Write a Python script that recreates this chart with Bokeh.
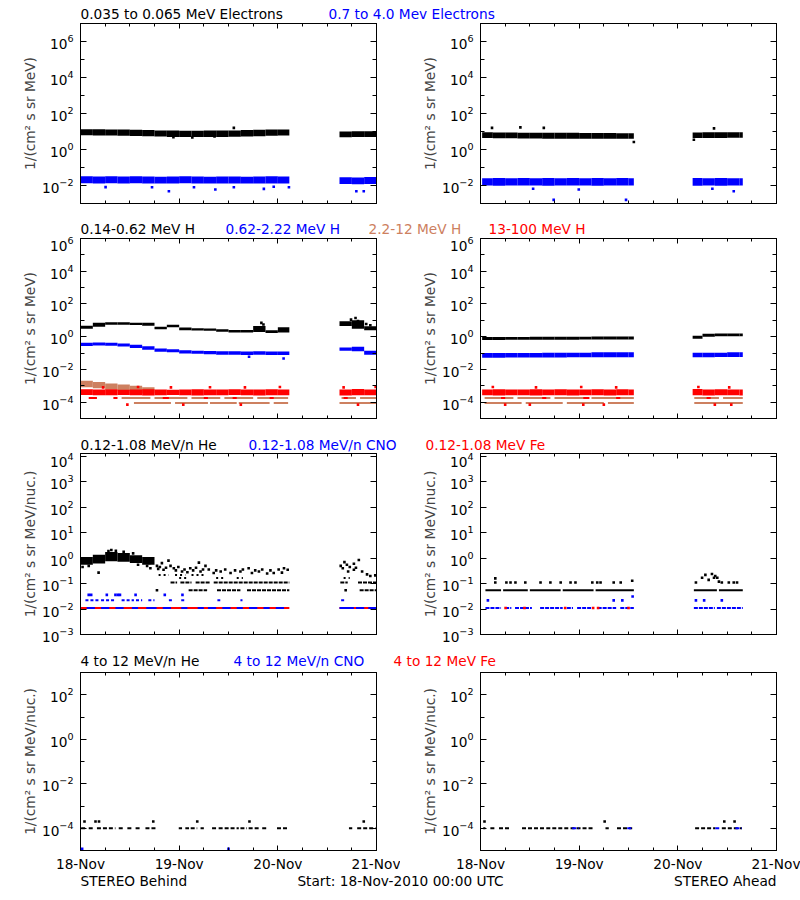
from bokeh.plotting import figure
from bokeh.models import Range1d, FixedTicker, LogAxis, LinearAxis, Label, CustomJSTickFormatter
from bokeh.layouts import column, row
from bokeh.embed import file_html
from bokeh.resources import INLINE

FONT = "DejaVu Sans"
FS = "13.7px"
BLACK = "#000000"
BLUE = "#0000FF"
RED = "#FF0000"
BROWN = "#CD8060"

# ---------------- axes ----------------
DAY_TICKS = [0, 24, 48, 72]
DAY_LABELS = ["18-Nov", "19-Nov", "20-Nov", "21-Nov"]
HOUR_MINOR = [6, 12, 18, 30, 36, 42, 54, 60, 66]

E_RANGE = (1e-3, 1e7)
E_MAJOR = [1e-2, 1e0, 1e2, 1e4, 1e6]
E_MINOR = [1e-3, 1e-1, 1e1, 1e3, 1e5, 1e7]
H_RANGE = (1e-5, 1e6)
H_MAJOR = [1e-4, 1e-2, 1e0, 1e2, 1e4, 1e6]
H_MINOR = [1e-5, 1e-3, 1e-1, 1e1, 1e3, 1e5]
HE_RANGE = (1e-3, 1.3e4)
HE_MAJOR = [1e-3, 1e-2, 1e-1, 1e0, 1e1, 1e2, 1e3, 1e4]
HE_MINOR = [1e-3, 1e4]
HEH_RANGE = (1e-5, 1e3)
HEH_MAJOR = [1e-4, 1e-2, 1e0, 1e2]
HEH_MINOR = [1e-5, 1e-3, 1e-1, 1e1, 1e3]

YLABEL_MEV = "1/(cm\u00b2 s sr MeV)"
YLABEL_NUC = "1/(cm\u00b2 s sr MeV/nuc.)"

ROW_TITLES = [
    [("0.035 to 0.065 MeV Electrons", BLACK), ("0.7 to 4.0 Mev Electrons", BLUE)],
    [("0.14-0.62 MeV H", BLACK), ("0.62-2.22 MeV H", BLUE), ("2.2-12 MeV H", BROWN), ("13-100 MeV H", RED)],
    [("0.12-1.08 MeV/n He", BLACK), ("0.12-1.08 MeV/n CNO", BLUE), ("0.12-1.08 MeV Fe", RED)],
    [("4 to 12 MeV/n He", BLACK), ("4 to 12 MeV/n CNO", BLUE), ("4 to 12 MeV Fe", RED)],
]
FOOTER = ["STEREO Behind", "Start: 18-Nov-2010 00:00 UTC", "STEREO Ahead"]

# ---------------- time bins (hours after 18-Nov-2010 00:00) ----------------
B_T0 = [0, 3, 6, 9, 12, 15, 18, 21, 24, 27, 30, 33, 36, 39, 42, 45, 48, 63, 66, 69]
B_T1 = [3, 6, 9, 12, 15, 18, 21, 24, 27, 30, 33, 36, 39, 42, 45, 48, 50.8, 66, 69, 72]
A_T0 = [0.4, 3, 6, 9, 12, 15, 18, 21, 24, 27, 30, 33, 36, 51.6, 54, 57, 60, 63]
A_T1 = [3, 6, 9, 12, 15, 18, 21, 24, 27, 30, 33, 36, 37.3, 54, 57, 60, 63, 63.8]

# ---------------- electrons, Behind ----------------
EB_BLK_LO = [6.2, 6.0, 5.9, 5.8, 5.7, 5.5, 5.2, 5.0, 4.9, 4.9, 5.0, 5.0, 5.1, 5.3, 5.5, 5.8, 6.0, 4.8, 4.9, 5.0]
EB_BLK_HI = [13.5, 13.2, 13.0, 12.8, 12.5, 12.0, 11.5, 11.2, 11.0, 11.0, 11.2, 11.3, 11.5, 12.0, 12.4, 12.8, 13.0, 10.0, 10.2, 10.4]
EB_BLK_OUT_T = [22.6, 27.2, 32.6, 37.3]
EB_BLK_OUT_V = [4.9, 4.6, 5.3, 15.8]
EB_BLU_LO = [0.0135, 0.0130, 0.0134, 0.0131, 0.0132, 0.0130, 0.0128, 0.0130, 0.0132, 0.0129, 0.0128, 0.0130, 0.0131, 0.0130, 0.0128, 0.0131, 0.0130, 0.0120, 0.0118, 0.0121]
EB_BLU_HI = [0.033, 0.032, 0.033, 0.032, 0.033, 0.032, 0.031, 0.032, 0.033, 0.032, 0.031, 0.032, 0.032, 0.031, 0.032, 0.033, 0.032, 0.029, 0.028, 0.030]
EB_BLU_OUT_T = [6.1, 17.4, 21.5, 27.6, 32.8, 37.3, 44.6, 47.0, 50.7, 67.1, 68.9]
EB_BLU_OUT_V = [0.0081, 0.008, 0.0048, 0.008, 0.006, 0.008, 0.0065, 0.0085, 0.008, 0.0048, 0.0048]

# ---------------- electrons, Ahead ----------------
EA_BLK_LO = [4.3, 4.2, 4.2, 4.1, 4.1, 4.0, 4.0, 4.0, 4.0, 3.9, 3.9, 3.9, 3.9, 4.3, 4.4, 4.4, 4.5, 4.5]
EA_BLK_HI = [9.0, 8.8, 8.8, 8.6, 8.6, 8.4, 8.4, 8.4, 8.3, 8.2, 8.2, 8.0, 8.0, 8.8, 9.0, 9.2, 9.2, 9.0]
EA_BLK_OUT_T = [2.8, 9.7, 15.4, 37.3, 56.8, 51.9]
EA_BLK_OUT_V = [15.8, 16.9, 15.8, 2.6, 15.0, 3.5]
EA_BLU_LO = [0.0100, 0.0098, 0.0101, 0.0099, 0.0100, 0.0097, 0.0100, 0.0099, 0.0101, 0.0098, 0.0100, 0.0099, 0.0100, 0.0098, 0.0100, 0.0097, 0.0100, 0.0100]
EA_BLU_HI = [0.025, 0.026, 0.025, 0.026, 0.025, 0.026, 0.025, 0.026, 0.025, 0.026, 0.025, 0.026, 0.025, 0.026, 0.025, 0.026, 0.025, 0.025]
EA_BLU_OUT_T = [12.8, 17.8, 23.9, 35.4, 61.6, 56.4]
EA_BLU_OUT_V = [0.0066, 0.0016, 0.006, 0.0016, 0.0048, 0.0066]

# ---------------- protons, Behind ----------------
HB_BLK_LO = [3.0, 4.0, 5.4, 5.4, 5.2, 4.6, 2.8, 3.8, 2.5, 2.4, 2.3, 2.0, 1.8, 1.8, 1.9, 1.7, 1.8, 4.5, 3.0, 2.5]
HB_BLK_HI = [4.6, 7.0, 7.5, 7.5, 7.2, 7.0, 4.0, 5.4, 3.6, 3.3, 3.2, 2.8, 2.6, 2.6, 4.5, 2.5, 3.8, 8.8, 10.0, 4.3]
HB_BLK_OUT_T = [44.0, 44.5, 65.8, 66.9, 67.5, 69.5, 70.5]
HB_BLK_OUT_V = [7.0, 5.5, 11.0, 14.0, 9.0, 6.0, 5.0]
HB_BLU_LO = [0.27, 0.29, 0.28, 0.25, 0.20, 0.16, 0.12, 0.11, 0.095, 0.09, 0.085, 0.08, 0.08, 0.075, 0.08, 0.075, 0.075, 0.14, 0.13, 0.08]
HB_BLU_HI = [0.42, 0.44, 0.42, 0.38, 0.32, 0.26, 0.19, 0.17, 0.15, 0.14, 0.135, 0.13, 0.13, 0.125, 0.13, 0.125, 0.125, 0.22, 0.24, 0.14]
HB_BLU_OUT_T = [49.4, 41.0]
HB_BLU_OUT_V = [0.046, 0.06]
HB_BRN_T0 = [0, 3, 6, 9, 12, 15]
HB_BRN_T1 = [3, 6, 9, 12, 15, 18]
HB_BRN_LO = [8e-4, 7e-4, 6e-4, 5e-4, 4e-4, 3.5e-4]
HB_BRN_HI = [2.0e-3, 1.7e-3, 1.4e-3, 1.2e-3, 1.0e-3, 8e-4]
HB_BRN_L2_T0 = [10, 18, 27, 35, 43, 63.5, 68]
HB_BRN_L2_T1 = [17, 26, 34, 42, 50.5, 67, 72]
HB_BRN_L1_T0 = [13, 23, 31.5, 38.5, 47, 63]
HB_BRN_L1_T1 = [22, 31, 38, 46, 50.5, 72]
HB_RED_LO = [2.7e-4, 2.6e-4, 2.6e-4, 2.7e-4, 2.6e-4, 2.5e-4, 2.6e-4, 2.7e-4, 2.6e-4, 2.5e-4, 2.6e-4, 2.6e-4, 2.7e-4, 2.6e-4, 2.5e-4, 2.6e-4, 2.6e-4, 2.5e-4, 2.6e-4, 2.6e-4]
HB_RED_HI = [6.2e-4, 6.0e-4, 6.2e-4, 5.8e-4, 6.0e-4, 6.2e-4, 6.0e-4, 5.8e-4, 6.0e-4, 6.2e-4, 5.9e-4, 6.0e-4, 6.1e-4, 5.9e-4, 6.0e-4, 6.2e-4, 6.0e-4, 6.0e-4, 6.3e-4, 6.0e-4]
HB_RED_OUT_T = [5.5, 14, 22, 31.5, 40, 48.5, 64, 71.8, 11.4, 25, 39, 67.5]
HB_RED_OUT_V = [8e-4, 8.5e-4, 8e-4, 8.2e-4, 8e-4, 8.5e-4, 8e-4, 8.4e-4, 7e-5, 7e-5, 7e-5, 7e-5]
HB_RED_L2_T0 = [2, 8, 20, 30, 37, 46, 64]
HB_RED_L2_T1 = [4, 9, 21.5, 31, 38, 47, 65]

# ---------------- protons, Ahead ----------------
HA_BLK_LO = [0.62, 0.63, 0.64, 0.64, 0.65, 0.65, 0.66, 0.66, 0.67, 0.67, 0.68, 0.68, 0.68, 0.75, 1.0, 1.05, 1.05, 1.05]
HA_BLK_HI = [0.95, 0.96, 0.97, 0.97, 0.98, 0.98, 1.0, 1.0, 1.0, 1.02, 1.02, 1.03, 1.03, 1.15, 1.5, 1.55, 1.55, 1.55]
HA_BLU_LO = [0.052, 0.052, 0.053, 0.053, 0.054, 0.054, 0.054, 0.055, 0.055, 0.055, 0.056, 0.056, 0.056, 0.056, 0.056, 0.057, 0.057, 0.057]
HA_BLU_HI = [0.10, 0.10, 0.10, 0.10, 0.10, 0.105, 0.105, 0.105, 0.105, 0.11, 0.11, 0.11, 0.11, 0.105, 0.105, 0.105, 0.11, 0.11]
HA_RED_LO = [2.6e-4, 2.5e-4, 2.6e-4, 2.6e-4, 2.5e-4, 2.6e-4, 2.6e-4, 2.5e-4, 2.6e-4, 2.6e-4, 2.5e-4, 2.6e-4, 2.6e-4, 2.6e-4, 2.5e-4, 2.6e-4, 2.6e-4, 2.5e-4]
HA_RED_HI = [6.0e-4, 6.2e-4, 6.0e-4, 5.9e-4, 6.1e-4, 6.0e-4, 6.2e-4, 6.0e-4, 5.9e-4, 6.1e-4, 6.0e-4, 6.2e-4, 6.0e-4, 6.3e-4, 6.0e-4, 6.1e-4, 6.0e-4, 6.0e-4]
HA_RED_OUT_T = [3.0, 13.5, 24.5, 33.0, 53.0, 60.5, 6, 12, 25, 30, 57, 61]
HA_RED_OUT_V = [8.5e-4, 8e-4, 8.5e-4, 8e-4, 8.5e-4, 8e-4, 7e-5, 7e-5, 7e-5, 7e-5, 7e-5, 7e-5]
HA_BRN_L2_T0 = [1, 9, 18, 27, 52, 59]
HA_BRN_L2_T1 = [8, 17, 26, 37.3, 58, 63.8]
HA_BRN_L1_T0 = [1, 11, 21, 31, 52]
HA_BRN_L1_T1 = [10, 20, 30, 37.3, 63.8]
HA_RED_L2_T0 = [5, 15, 25, 33, 55]
HA_RED_L2_T1 = [6, 16, 26.5, 34, 56]

H_LEVEL_1 = 9e-5
H_LEVEL_2 = 1.8e-4

# ---------------- 0.12-1.08 MeV/n, Behind ----------------
HEB_CLOUD_T0 = [0, 3, 6, 9, 12, 15]
HEB_CLOUD_T1 = [3, 6, 9, 12, 15, 18]
HEB_CLOUD_LO = [0.55, 0.62, 0.75, 0.72, 0.65, 0.55]
HEB_CLOUD_HI = [1.1, 1.35, 1.75, 1.6, 1.3, 1.1]
HEB_BLK_T = [0.5, 2.0, 4.4, 7.5, 6.8, 8.6, 10.5, 12.8, 16.2, 17.0, 16.8, 14.0,
             18.6, 19.8, 21.4, 21.9, 22.7, 24.7, 26.7, 28.8, 29.2, 30.4, 31.2, 32.4, 34.1, 36.5,
             38.9, 40.9, 41.7, 43.4, 45.4, 47.0, 49.0, 49.5, 50.4,
             18.9, 19.3, 20.2, 20.8, 23.2, 23.8, 25.3, 26.0, 27.4, 28.1, 29.8, 33.0, 35.2, 37.6,
             39.5, 42.5, 44.2, 46.2, 48.2,
             63.3, 64.2, 65.5, 66.5, 67.7, 66.5, 65.1, 68.5, 69.7, 70.5, 71.7, 63.8, 64.8, 67.0,
             18.6, 64.5, 71.5]
HEB_BLK_V = [0.45, 0.5, 0.27, 2.1, 1.9, 1.95, 1.8, 1.55, 0.5, 0.4, 0.65, 0.55,
             0.5, 0.64, 0.8, 0.5, 0.4, 0.3, 0.4, 0.67, 0.3, 0.5, 0.36, 0.26, 0.3, 0.26,
             0.3, 0.4, 0.26, 0.3, 0.25, 0.26, 0.27, 0.4, 0.35,
             0.38, 0.45, 0.35, 0.42, 0.33, 0.45, 0.36, 0.28, 0.33, 0.42, 0.36, 0.33, 0.36, 0.33,
             0.36, 0.33, 0.36, 0.33, 0.36,
             0.5, 0.7, 0.45, 0.6, 0.85, 0.35, 0.3, 0.3, 0.23, 0.2, 0.21, 0.4, 0.55, 0.42,
             0.055, 0.055, 0.0105]
HEB_L4_T0 = [19, 23, 27]
HEB_L4_T1 = [21.5, 25.5, 30.5]
HEB_L3_T0 = [24, 33, 38, 64]
HEB_L3_T1 = [26, 35, 39.5, 65.5]
HEB_L2_T0 = [21.9, 24.3, 28, 32.4, 63.2, 67.5]
HEB_L2_T1 = [23.5, 27, 31.6, 50.8, 65, 72]
HEB_L1_T0 = [26.3, 33.2, 40.5, 67.9]
HEB_L1_T1 = [30.8, 38.9, 50.8, 72]
HEB_RED_T0 = [0, 63]
HEB_RED_T1 = [50.8, 72]
HEB_BLU_T0 = [1.5, 5.0, 8.5, 12.5, 16.0, 20.0, 24.5, 28.5, 31.0, 34.5, 38.0, 41.0, 44.5, 47.5, 63.0, 67.0, 70.0]
HEB_BLU_T1 = [3.5, 7.0, 10.5, 14.0, 18.5, 22.0, 26.0, 30.0, 33.0, 36.5, 39.5, 43.0, 46.0, 49.5, 66.5, 69.0, 72.0]
HEB_BLU2_T0 = [1.2, 5, 10, 13.5, 16.5, 21.5, 24.5, 33.3, 38.9, 63.4]
HEB_BLU2_T1 = [4.5, 8.5, 13, 15, 18, 22.5, 25.5, 34, 39.4, 64.4]
HEB_BLU3_T = [2.0, 2.6, 6.4, 8.5, 9.1, 9.6, 13.4, 20.5, 24.8]

HE_LEVEL_1 = 0.055
HE_LEVEL_2 = 0.11
HE_LEVEL_3 = 0.165
HE_LEVEL_4 = 0.22
HEAVY_LEVEL_1 = 0.011
HEAVY_LEVEL_2 = 0.022
HEAVY_LEVEL_3 = 0.036
HEAVY_LEVEL_3A = 0.031

# ---------------- 0.12-1.08 MeV/n, Ahead ----------------
HEA_L1_T0 = [1.2, 5.5, 12, 20, 28, 51.9, 58]
HEA_L1_T1 = [5, 11.5, 19.5, 27.5, 37.3, 57.5, 63.8]
HEA_BLK_T = [3.6, 6.3, 7.3, 8.5, 10.9, 14.6, 17.0, 19.5, 21.9, 23.1, 27.2, 28.4, 29.2, 32.4, 34.1,
             3.6, 36.9, 54.7, 56.3, 57.1, 53.9, 55.5, 58.0, 58.7, 60.4, 61.6, 62.4, 57.6, 56.8, 52.4]
HEA_BLK_V = [0.11, 0.11, 0.11, 0.11, 0.11, 0.11, 0.11, 0.11, 0.11, 0.11, 0.11, 0.11, 0.11, 0.11, 0.11,
             0.16, 0.13, 0.22, 0.24, 0.2, 0.17, 0.14, 0.12, 0.11, 0.11, 0.11, 0.11, 0.17, 0.17, 0.11]
HEA_BLU_T0 = [1.2, 6.0, 8.4, 14.5, 21.0, 23.5, 28.5, 34.0, 51.9, 57.5]
HEA_BLU_T1 = [5.0, 7.5, 12.5, 20.0, 22.5, 27.5, 33.0, 37.3, 57.0, 63.8]
HEA_RED_T = [6.1, 10.7, 20.6, 27.4, 28.6, 36.0]
HEA_BLU2_T = [1.8, 32.4, 34.5, 52.4, 54.4, 58.7]
HEA_BLU3_T = [37.0]

# ---------------- 4-12 MeV/n ----------------
HHB_L_T0 = [0.16, 2.0, 4.0, 6.9, 9.3, 11.4, 13.4, 15.8, 23.9, 25.5, 26.8, 29.2, 32.0, 33.6, 36.5, 38.9, 40.9, 44.2, 47.8, 65.3, 67.3]
HHB_L_T1 = [1.6, 3.2, 6.5, 8.5, 10.5, 12.6, 14.6, 18.7, 24.7, 26.4, 28.4, 30.0, 33.2, 36.1, 38.5, 40.5, 43.8, 45.4, 50.3, 66.1, 71.8]
HHB_HI_T = [0.97, 3.65, 4.5, 17.7, 28.4, 41.1, 68.9]
HHB_BLU_T = [0.4, 36.0]
HHA_L_T0 = [0.66, 2.4, 4.5, 10.1, 16.0, 21.9, 30.4, 33.2, 52.2, 58.7]
HHA_L_T1 = [1.2, 3.8, 7.3, 15.5, 21.5, 27.6, 31.2, 36.9, 57.1, 63.6]
HHA_BLU_T0 = [22.3, 35.7, 57.1, 62.0]
HHA_BLU_T1 = [23.9, 36.9, 58.4, 63.6]
HHA_HI_T = [0.97, 30.2, 59.3, 61.8]
HH_LEVEL_1 = 1e-4
HH_LEVEL_2 = 2e-4
HH_LEVEL_LOW = 1.2e-5

# ---------------- layout (screen px; page has no margin) ----------------
TITLE_X = [[80, 328], [80, 225, 368, 488], [80, 248, 425], [80, 233, 393]]
FOOTER_X = [80, 400, 776]
STRIP_H = [21, 18, 19, 16, 18]
STRIP_MID = [7.7, 7.7, 7.7, 8.3, 11.3]   # text centre, px above strip bottom
PANEL_H = [197, 197, 201, 205]
PANEL_BT = [2, 2, 1, 3]
PANEL_BB = [15, 15, 19, 23]
DOT = 2.6
ROWW = 2

BLANK = CustomJSTickFormatter(code="return '';")


def style_axis(ax, tin, min_in, show):
    ax.axis_line_color = "black"
    ax.major_tick_in = tin
    ax.major_tick_out = 0
    ax.minor_tick_in = min_in
    ax.minor_tick_out = 0
    ax.major_tick_line_color = "black"
    ax.minor_tick_line_color = "black"
    if show:
        ax.major_label_text_font = FONT
        ax.major_label_text_font_size = FS
        ax.major_label_text_color = "black"
    else:
        ax.formatter = BLANK
        ax.major_label_text_font_size = "1px"
        ax.major_label_standoff = 0
        ax.axis_label_standoff = 0


def panel(yr, ymaj, ymin, ylabel, k):
    p = figure(width=400, height=PANEL_H[k], x_range=Range1d(0, 72), y_range=Range1d(*yr),
               y_axis_type="log", toolbar_location=None, output_backend="svg",
               min_border_left=80, min_border_right=24,
               min_border_top=PANEL_BT[k], min_border_bottom=PANEL_BB[k])
    p.xgrid.visible = False
    p.ygrid.visible = False
    p.outline_line_color = "black"
    p.background_fill_color = "white"
    p.border_fill_color = "white"
    yt = FixedTicker(ticks=ymaj, minor_ticks=ymin)
    xt = FixedTicker(ticks=DAY_TICKS, minor_ticks=HOUR_MINOR)
    ya = p.yaxis[0]
    ya.ticker = yt
    style_axis(ya, 6, 4, True)
    ya.major_label_standoff = 7
    ya.axis_label = ylabel
    ya.axis_label_text_font = FONT
    ya.axis_label_text_font_size = FS
    ya.axis_label_text_font_style = "normal"
    ya.axis_label_standoff = 1
    xa = p.xaxis[0]
    xa.ticker = xt
    show_x = (k == 3)
    style_axis(xa, 5, 3, show_x)
    if show_x:
        xa.major_label_overrides = {t: lab for t, lab in zip(DAY_TICKS, DAY_LABELS)}
        xa.major_label_standoff = 5
    ra = LogAxis(ticker=yt)
    style_axis(ra, 6, 4, False)
    p.add_layout(ra, "right")
    ta = LinearAxis(ticker=xt)
    style_axis(ta, 5, 3, False)
    p.add_layout(ta, "above")
    return p


def bands(p, t0, t1, lo, hi, color):
    p.quad(left=t0, right=t1, bottom=lo, top=hi, fill_color=color, line_color=None)


def runs(p, t0, t1, level, color, dash="solid"):
    p.segment(x0=t0, x1=t1, y0=level, y1=level, line_color=color, line_width=ROWW, line_dash=dash)


def dots(p, t, v, color):
    p.scatter(x=t, y=v, marker="square", size=DOT, fill_color=color, line_color=None)


def strip(k, items, xs, aligns=None):
    h = STRIP_H[k]
    s = figure(width=800, height=h, x_range=Range1d(0, 800), y_range=Range1d(0, h),
               toolbar_location=None, output_backend="svg", min_border=0,
               x_axis_location=None, y_axis_location=None)
    s.outline_line_color = None
    s.xgrid.visible = False
    s.ygrid.visible = False
    s.background_fill_color = "white"
    s.border_fill_color = "white"
    for i, (text, color) in enumerate(items):
        al = aligns[i] if aligns else "left"
        s.add_layout(Label(x=xs[i], y=STRIP_MID[k], text=text, text_color=color,
                           text_font=FONT, text_font_size=FS, text_baseline="middle",
                           text_align=al))
    return s


# ---- row 1: electrons ----
p11 = panel(E_RANGE, E_MAJOR, E_MINOR, YLABEL_MEV, 0)
bands(p11, B_T0, B_T1, EB_BLK_LO, EB_BLK_HI, BLACK)
dots(p11, EB_BLK_OUT_T, EB_BLK_OUT_V, BLACK)
bands(p11, B_T0, B_T1, EB_BLU_LO, EB_BLU_HI, BLUE)
dots(p11, EB_BLU_OUT_T, EB_BLU_OUT_V, BLUE)

p12 = panel(E_RANGE, E_MAJOR, E_MINOR, YLABEL_MEV, 0)
bands(p12, A_T0, A_T1, EA_BLK_LO, EA_BLK_HI, BLACK)
dots(p12, EA_BLK_OUT_T, EA_BLK_OUT_V, BLACK)
bands(p12, A_T0, A_T1, EA_BLU_LO, EA_BLU_HI, BLUE)
dots(p12, EA_BLU_OUT_T, EA_BLU_OUT_V, BLUE)

# ---- row 2: protons ----
p21 = panel(H_RANGE, H_MAJOR, H_MINOR, YLABEL_MEV, 1)
bands(p21, B_T0, B_T1, HB_BLK_LO, HB_BLK_HI, BLACK)
dots(p21, HB_BLK_OUT_T, HB_BLK_OUT_V, BLACK)
bands(p21, B_T0, B_T1, HB_BLU_LO, HB_BLU_HI, BLUE)
dots(p21, HB_BLU_OUT_T, HB_BLU_OUT_V, BLUE)
bands(p21, HB_BRN_T0, HB_BRN_T1, HB_BRN_LO, HB_BRN_HI, BROWN)
runs(p21, HB_BRN_L2_T0, HB_BRN_L2_T1, H_LEVEL_2, BROWN)
runs(p21, HB_BRN_L1_T0, HB_BRN_L1_T1, H_LEVEL_1, BROWN)
bands(p21, B_T0, B_T1, HB_RED_LO, HB_RED_HI, RED)
dots(p21, HB_RED_OUT_T, HB_RED_OUT_V, RED)
runs(p21, HB_RED_L2_T0, HB_RED_L2_T1, H_LEVEL_2, RED)

p22 = panel(H_RANGE, H_MAJOR, H_MINOR, YLABEL_MEV, 1)
bands(p22, A_T0, A_T1, HA_BLK_LO, HA_BLK_HI, BLACK)
bands(p22, A_T0, A_T1, HA_BLU_LO, HA_BLU_HI, BLUE)
runs(p22, HA_BRN_L2_T0, HA_BRN_L2_T1, H_LEVEL_2, BROWN)
runs(p22, HA_BRN_L1_T0, HA_BRN_L1_T1, H_LEVEL_1, BROWN)
bands(p22, A_T0, A_T1, HA_RED_LO, HA_RED_HI, RED)
dots(p22, HA_RED_OUT_T, HA_RED_OUT_V, RED)
runs(p22, HA_RED_L2_T0, HA_RED_L2_T1, H_LEVEL_2, RED)

# ---- row 3: 0.12-1.08 MeV/n ions ----
p31 = panel(HE_RANGE, HE_MAJOR, HE_MINOR, YLABEL_NUC, 2)
bands(p31, HEB_CLOUD_T0, HEB_CLOUD_T1, HEB_CLOUD_LO, HEB_CLOUD_HI, BLACK)
dots(p31, HEB_BLK_T, HEB_BLK_V, BLACK)
runs(p31, HEB_L4_T0, HEB_L4_T1, HE_LEVEL_4, BLACK, "2 3")
runs(p31, HEB_L3_T0, HEB_L3_T1, HE_LEVEL_3, BLACK, "2 3")
runs(p31, HEB_L2_T0, HEB_L2_T1, HE_LEVEL_2, BLACK, "4 1")
runs(p31, HEB_L1_T0, HEB_L1_T1, HE_LEVEL_1, BLACK, "4 1")
runs(p31, HEB_RED_T0, HEB_RED_T1, HEAVY_LEVEL_1, RED)
runs(p31, HEB_BLU_T0, HEB_BLU_T1, HEAVY_LEVEL_1, BLUE)
runs(p31, HEB_BLU2_T0, HEB_BLU2_T1, HEAVY_LEVEL_2, BLUE, "3 2")
dots(p31, HEB_BLU3_T, [HEAVY_LEVEL_3] * len(HEB_BLU3_T), BLUE)

p32 = panel(HE_RANGE, HE_MAJOR, HE_MINOR, YLABEL_NUC, 2)
runs(p32, HEA_L1_T0, HEA_L1_T1, HE_LEVEL_1, BLACK)
dots(p32, HEA_BLK_T, HEA_BLK_V, BLACK)
runs(p32, HEA_BLU_T0, HEA_BLU_T1, HEAVY_LEVEL_1, BLUE, "4 1")
dots(p32, HEA_RED_T, [HEAVY_LEVEL_1] * len(HEA_RED_T), RED)
dots(p32, HEA_BLU2_T, [HEAVY_LEVEL_2] * len(HEA_BLU2_T), BLUE)
dots(p32, HEA_BLU3_T, [HEAVY_LEVEL_3A] * len(HEA_BLU3_T), BLUE)

# ---- row 4: 4-12 MeV/n ions ----
p41 = panel(HEH_RANGE, HEH_MAJOR, HEH_MINOR, YLABEL_NUC, 3)
runs(p41, HHB_L_T0, HHB_L_T1, HH_LEVEL_1, BLACK, "4 2")
dots(p41, HHB_HI_T, [HH_LEVEL_2] * len(HHB_HI_T), BLACK)
dots(p41, HHB_BLU_T, [HH_LEVEL_LOW] * len(HHB_BLU_T), BLUE)

p42 = panel(HEH_RANGE, HEH_MAJOR, HEH_MINOR, YLABEL_NUC, 3)
runs(p42, HHA_L_T0, HHA_L_T1, HH_LEVEL_1, BLACK, "4 2")
runs(p42, HHA_BLU_T0, HHA_BLU_T1, HH_LEVEL_1, BLUE, "4 2")
dots(p42, HHA_HI_T, [HH_LEVEL_2] * len(HHA_HI_T), BLACK)

s1 = strip(0, ROW_TITLES[0], TITLE_X[0])
s2 = strip(1, ROW_TITLES[1], TITLE_X[1])
s3 = strip(2, ROW_TITLES[2], TITLE_X[2])
s4 = strip(3, ROW_TITLES[3], TITLE_X[3])
s5 = strip(4, [(FOOTER[0], BLACK), (FOOTER[1], BLACK), (FOOTER[2], BLACK)],
           FOOTER_X, ["left", "center", "right"])

page = column(s1, row(p11, p12), s2, row(p21, p22), s3, row(p31, p32), s4, row(p41, p42), s5)

with open("out.html", "w") as f:
    f.write(file_html(page, INLINE))
